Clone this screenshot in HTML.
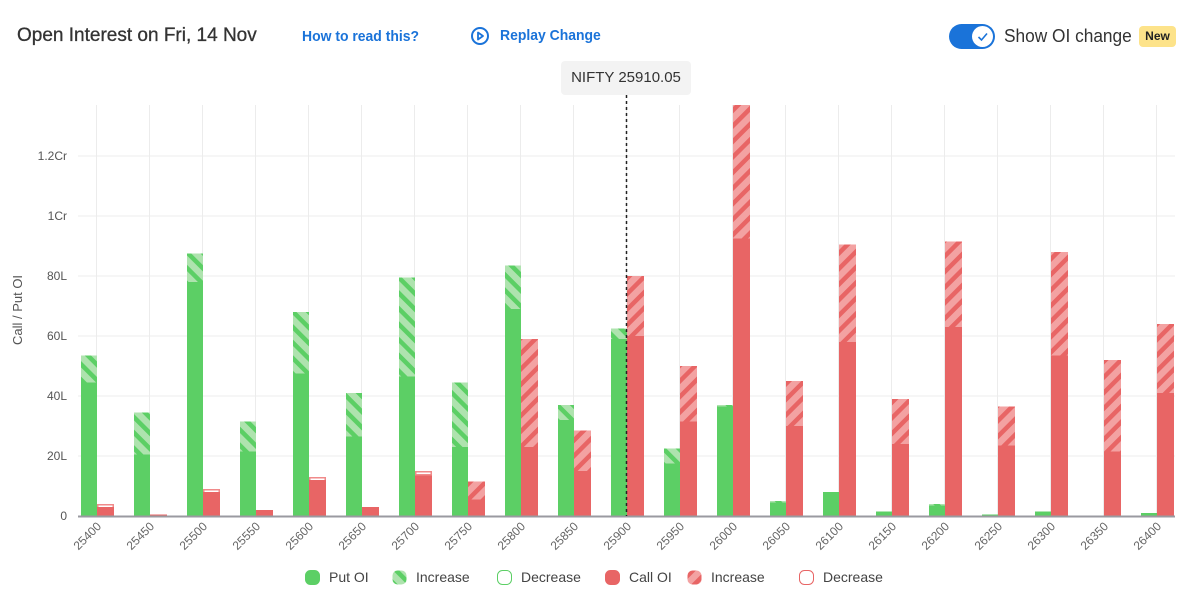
<!DOCTYPE html>
<html><head><meta charset="utf-8"><style>
body{margin:0;background:#fff;font-family:"Liberation Sans",sans-serif;}
#w{position:relative;width:1190px;height:608px;overflow:hidden;}
.t{position:absolute;white-space:nowrap}
</style></head><body><div id="w">
<div class="t" style="left:17px;top:25px;font-size:19px;color:#333;-webkit-text-stroke:0.3px #333">Open Interest on Fri, 14 Nov</div>
<div class="t" style="left:302px;top:28px;font-size:15px;color:#1a73d9;font-weight:bold;transform:scaleX(0.93);transform-origin:left">How to read this?</div>
<svg class="t" style="left:470px;top:26px" width="20" height="20"><circle cx="10" cy="10" r="8" fill="none" stroke="#1a73d9" stroke-width="2"/><path d="M8 6.5 L13 10 L8 13.5Z" fill="none" stroke="#1a73d9" stroke-width="1.8" stroke-linejoin="round"/></svg>
<div class="t" style="left:500px;top:27px;font-size:15px;color:#1a73d9;font-weight:bold;transform:scaleX(0.93);transform-origin:left">Replay Change</div>
<div class="t" style="left:949px;top:24px;width:46px;height:25px;border-radius:13px;background:#1a73d9"></div>
<div class="t" style="left:972px;top:26px;width:21px;height:21px;border-radius:50%;background:#fff"></div>
<svg class="t" style="left:975px;top:29px" width="15" height="15"><path d="M3.5 8 L6.5 11 L12 4.5" fill="none" stroke="#1a73d9" stroke-width="1.6"/></svg>
<div class="t" style="left:1004px;top:26px;font-size:18px;color:#333;transform:scaleX(0.96);transform-origin:left">Show OI change</div>
<div class="t" style="left:1139px;top:26px;width:37px;height:21px;border-radius:4px;background:#fde38a;font-size:12px;font-weight:bold;color:#222;text-align:center;line-height:21px">New</div>
<div class="t" style="left:561px;top:61px;width:130px;height:34px;background:#f3f3f3;border-radius:4px;font-size:15px;color:#333;text-align:center;line-height:34px">NIFTY 25910.05</div>
<svg id="c" class="t" style="left:0;top:0" width="1190" height="608"></svg>
</div>
<script>
const put=[[44.5,53.5],[20.5,34.5],[78,87.5],[21.5,31.5],[47.5,68],[26.5,41],[46.5,79.5],[23,44.5],[69,83.5],[32,37],[59,62.5],[17.5,22.5],[36.5,37],[4.5,5],[8,8],[1.5,1.5],[3.5,4],[0.5,0.5],[1.5,1.5],[0,0],[1,1]];
const call=[[3,4,'d'],[0.5,0.5],[8,9,'d'],[2,2],[12,13,'d'],[3,3],[13.5,15,'d'],[5.5,11.5],[23,59],[15,28.5],[60,80],[31.5,50],[92.5,137],[30,45],[58,90.5],[24,39],[63,91.5],[23.5,36.5],[53.5,88],[21.5,52],[41,64]];
const Y=v=>516-3*v;
let s=`<defs>
<pattern id="pg" width="11" height="11" patternUnits="userSpaceOnUse" patternTransform="rotate(45)"><rect width="11" height="11" fill="#aee3ae"/><rect width="11" height="4.5" fill="#5ccf65"/></pattern>
<pattern id="pr" width="11" height="11" patternUnits="userSpaceOnUse" patternTransform="rotate(-45)"><rect width="11" height="11" fill="#f3a2a2"/><rect width="11" height="4.5" fill="#e86565"/></pattern>
<clipPath id="cl"><rect x="78" y="105" width="1100" height="412"/></clipPath></defs>`;
const lab=['1.2Cr','1Cr','80L','60L','40L','20L','0'];
[120,100,80,60,40,20,0].forEach((v,i)=>{s+=`<line x1="78" x2="1175" y1="${Y(v)}" y2="${Y(v)}" stroke="#ececec"/><text x="67" y="${Y(v)+4}" font-size="12" fill="#555" text-anchor="end">${lab[i]}</text>`;});
for(let i=0;i<21;i++){const x=96.5+53*i;s+=`<line x1="${x}" x2="${x}" y1="105" y2="516" stroke="#ececec"/>`;}
s+=`<text transform="translate(22,310) rotate(-90)" font-size="13" fill="#555" text-anchor="middle">Call / Put OI</text><g clip-path="url(#cl)">`;
for(let i=0;i<21;i++){const x=97+53*i;const[pb,pt]=put[i];
 if(pt>pb)s+=`<rect x="${x-16}" y="${Y(pt)}" width="16" height="${3*(pt-pb)}" fill="url(#pg)"/>`;
 if(pb>0)s+=`<rect x="${x-16}" y="${Y(pb)}" width="16" height="${3*pb}" fill="#5ccf65"/>`;
 const[cb,ct,d]=call[i];
 if(d){s+=`<rect x="${x}" y="${Y(ct)}" width="17" height="${3*ct}" fill="#f08a8a"/><rect x="${x+1.5}" y="${Y(ct)+1.5}" width="14" height="1.5" fill="#fff"/><rect x="${x}" y="${Y(cb)}" width="17" height="${3*cb}" fill="#e86565"/>`;}
 else{if(ct>cb)s+=`<rect x="${x}" y="${Y(ct)}" width="17" height="${3*(ct-cb)}" fill="url(#pr)"/>`;
 s+=`<rect x="${x}" y="${Y(cb)}" width="17" height="${3*cb}" fill="#e86565"/>`;}
}
s+=`</g><line x1="78" x2="1175" y1="516.5" y2="516.5" stroke="#9a9aa0" stroke-width="2"/><line x1="626.5" x2="626.5" y1="95" y2="516" stroke="#222" stroke-width="1.5" stroke-dasharray="3,3"/>`;
for(let i=0;i<21;i++){const x=97+53*i;s+=`<text transform="translate(${x+5},527) rotate(-45)" font-size="12" fill="#666" text-anchor="end">${25400+50*i}</text>`;}
const lg=[[305,'#5ccf65','#5ccf65','Put OI'],[392,'url(#pg)','none','Increase'],[497,'#fff','#5ccf65','Decrease'],[605,'#e86565','#e86565','Call OI'],[687,'url(#pr)','none','Increase'],[799,'#fff','#e86565','Decrease']];
lg.forEach(([x,f,st,t])=>{s+=`<rect x="${x+0.5}" y="570.5" width="14" height="14" rx="5" fill="${f}" stroke="${st}"/><text x="${x+24}" y="582" font-size="14" fill="#444">${t}</text>`;});
document.getElementById('c').innerHTML=s;
</script></body></html>
